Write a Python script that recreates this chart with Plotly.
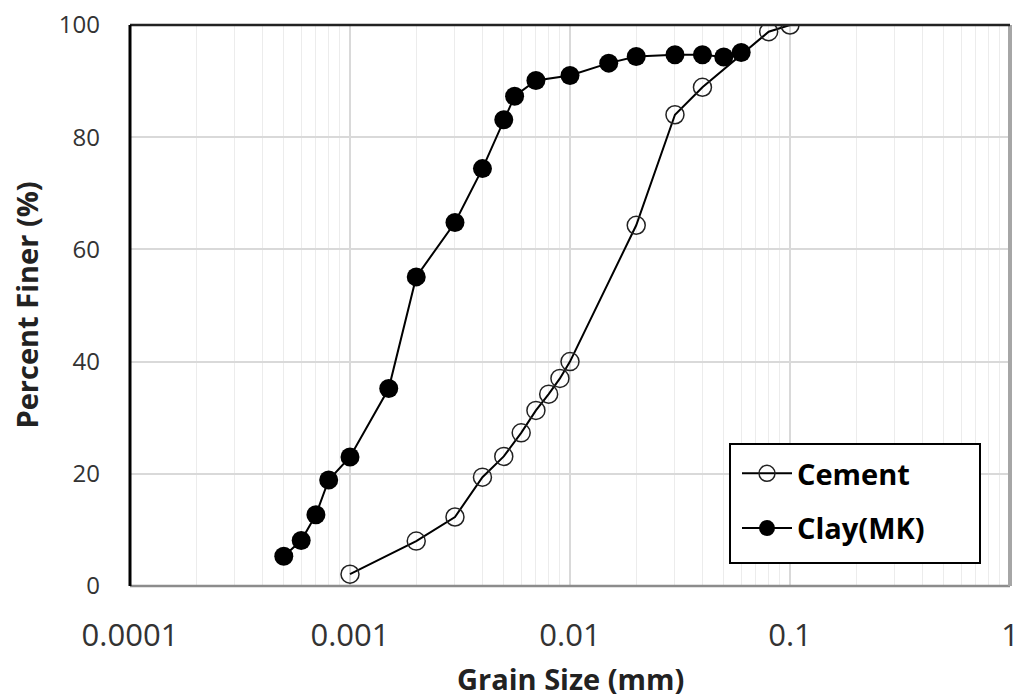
import plotly.graph_objects as go

# ---- data ----
cement_size = [0.001, 0.002, 0.003, 0.004, 0.005, 0.006, 0.007, 0.008, 0.009, 0.01,
               0.02, 0.03, 0.04, 0.08, 0.1]
cement_finer = [2.1, 8.0, 12.3, 19.4, 23.1, 27.3, 31.3, 34.2, 37.0, 40.0,
                64.3, 84.0, 88.9, 98.8, 100.0]

clay_size = [0.0005, 0.0006, 0.0007, 0.0008, 0.001, 0.0015, 0.002, 0.003, 0.004, 0.005,
             0.0056, 0.007, 0.01, 0.015, 0.02, 0.03, 0.04, 0.05, 0.06]
clay_finer = [5.3, 8.1, 12.7, 18.9, 23.0, 35.2, 55.1, 64.8, 74.4, 83.1,
              87.3, 90.1, 91.0, 93.2, 94.4, 94.7, 94.7, 94.3, 95.1]

x_tickvals = [0.0001, 0.001, 0.01, 0.1, 1]
x_ticktext = ["0.0001", "0.001", "0.01", "0.1", "1"]
y_tickvals = [0, 20, 40, 60, 80, 100]
x_minor = [k * 10.0 ** e for e in range(-4, 0) for k in range(2, 10)]

FONT = "Open Sans"

fig = go.Figure()
fig.add_trace(go.Scatter(
    x=cement_size, y=cement_finer, mode="lines+markers", name="Cement",
    legendgroup="a",
    line=dict(color="black", width=2),
    marker=dict(symbol="circle-open", size=18, color="#222222", line=dict(width=1.5)),
))
fig.add_trace(go.Scatter(
    x=clay_size, y=clay_finer, mode="lines+markers", name="Clay(MK)",
    legendgroup="b",
    line=dict(color="black", width=2),
    marker=dict(symbol="circle", size=19, color="black"),
))

def px_x(p):
    return (p - 130) / 880.0

def px_y(p):
    return (586 - p) / 561.0

shapes = [
    # legend box
    dict(type="rect", xref="paper", yref="paper", x0=px_x(730), x1=px_x(980),
         y0=px_y(563), y1=px_y(444), line=dict(color="black", width=2),
         fillcolor="white", layer="above"),
    # frame
    dict(type="line", xref="paper", yref="paper", x0=0, x1=1, y0=0, y1=0,
         line=dict(color="#8c8c8c", width=2.5), layer="above"),
    dict(type="line", xref="paper", yref="paper", x0=1, x1=1, y0=0, y1=1,
         line=dict(color="#a6a6a6", width=4), layer="above"),
    dict(type="line", xref="paper", yref="paper", x0=0, x1=1, y0=1, y1=1,
         line=dict(color="#222222", width=2.5), layer="above"),
    dict(type="line", xref="paper", yref="paper", x0=0, x1=0, y0=0, y1=1,
         line=dict(color="black", width=3), layer="above"),
]

annotations = [
    dict(text="<b>Percent Finer (%)</b>", xref="paper", yref="paper",
         x=px_x(26), y=0.5, xanchor="center", yanchor="middle", textangle=-90,
         showarrow=False, font=dict(family=FONT, size=29, color="#222222")),
    dict(text="<b>Grain Size (mm)</b>", xref="paper", yref="paper",
         x=0.5, y=px_y(700), xanchor="center", yanchor="bottom",
         showarrow=False, font=dict(family=FONT, size=29, color="#222222")),
]

fig.update_layout(
    width=1013, height=700,
    margin=dict(l=130, r=3, t=25, b=114, pad=0, autoexpand=False),
    paper_bgcolor="white", plot_bgcolor="white",
    font=dict(family=FONT, color="#333333"),
    showlegend=True,
    legend=dict(x=px_x(737), y=px_y(448), xanchor="left", yanchor="top",
                bgcolor="rgba(0,0,0,0)", borderwidth=0,
                font=dict(family=FONT, size=29, color="black", weight="bold"),
                tracegroupgap=14, itemwidth=50),
    shapes=shapes,
    annotations=annotations,
    xaxis=dict(type="log", range=[-4, 0], tickmode="array",
               tickvals=x_tickvals, ticktext=x_ticktext,
               showgrid=True, gridcolor="#d9d9d9", gridwidth=1.5,
               minor=dict(tickvals=x_minor, showgrid=True, gridcolor="#ececec", gridwidth=1.2),
               showline=False, zeroline=False, ticks="", automargin=False,
               ticklabelstandoff=28, ticklabeloverflow="allow",
               tickfont=dict(family=FONT, size=31, color="#333333")),
    yaxis=dict(range=[0, 100], tickmode="array", tickvals=y_tickvals,
               showgrid=True, gridcolor="#d9d9d9", gridwidth=1.5,
               showline=False, zeroline=False, ticks="", automargin=False,
               ticklabelstandoff=29,
               tickfont=dict(family=FONT, size=24, color="#333333")),
)

fig.write_html("out.html")
